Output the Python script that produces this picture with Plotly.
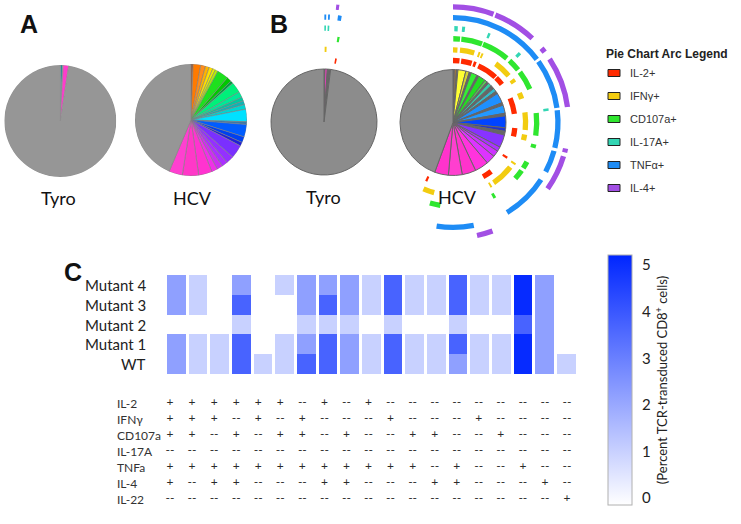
import plotly.graph_objects as go

W, H = 741, 524

# ---------------- Panel A pies (percent of cells per functional subset) ----------------
tyro_a_pct = [0.6, 0.25, 1.55, 97.6]
tyro_a_colors = ['#138a9a', '#969696', '#ff3ccc', '#969696']

hcv_a_pct = [0.6, 2.2, 1.4, 1.1, 1.1, 0.8, 0.8, 3.3, 1.4, 0.8, 3.1, 1.7, 1.1, 1.1, 1.4,
             3.6, 0.8, 3.6, 1.7, 1.1, 3.9, 2.2, 1.7, 1.7, 1.7, 3.9, 4.7, 3.9, 43.6]
hcv_a_colors = ['#a0522d', '#ff7a00', '#ff8c1a', '#ffb300', '#ffe000', '#e8f000', '#b8f000',
                '#1ee01e', '#00c800', '#00a040', '#00f07a', '#00e896', '#00c8a0', '#10b4b4',
                '#00d4d0', '#00e1ff', '#3a78a8', '#005cff', '#0040f0', '#2020d8', '#7a30ff',
                '#9430ff', '#aa30ff', '#cc30f0', '#f030e8', '#ff33d0', '#ff38c8', '#ff40d0',
                '#969696']

# ---------------- Panel B pies ----------------
tyro_b_pct = [0.3, 0.7, 1.0, 98.0]
tyro_b_colors = ['#666666', '#ff3ccc', '#666666', '#8c8c8c']

hcv_b_pct = [0.4, 0.7, 0.4, 2.4, 1.1, 0.6, 1.9, 0.6, 2.2, 0.8, 0.6, 1.1, 1.1, 1.1, 0.8, 3.1,
             0.8, 2.5, 0.8, 3.6, 1.1, 1.1, 3.9, 1.4, 1.9, 2.8, 4.2, 4.2, 4.2, 4.2, 44.4]
hcv_b_colors = ['#666666', '#997744', '#666666', '#ffff33', '#d4d433', '#666666', '#33ee33',
                '#666666', '#22dd22', '#55cc55', '#666666', '#33ccaa', '#666666', '#33bbcc',
                '#666666', '#1e90ff', '#666666', '#2299ff', '#666666', '#0044ff', '#2233cc',
                '#666666', '#8833ff', '#aa33ff', '#cc33ff', '#dd33ff', '#ff33dd', '#ff33cc',
                '#ff3fcf', '#ff33cc', '#8c8c8c']

# Arc spans (degrees clockwise from 12 o'clock) for each cytokine
arc_names = ['IL-2+', 'IFNγ+', 'CD107a+', 'IL-17A+', 'TNFα+', 'IL-4+']
arc_colors = ['#ff2a00', '#f2cc10', '#2fe62f', '#33d6b4', '#1e8cf5', '#a24fe4']

tyro_il2_arcs = [[10, 11.5]]
tyro_ifng_arcs = [[0.5, 2]]
tyro_cd107a_arcs = [[9, 10.5]]
tyro_il17a_arcs = [[0.2, 1.2], [2.2, 3.2]]
tyro_tnfa_arcs = [[0.2, 1.2], [2.2, 3.2], [7.5, 9.5]]
tyro_il4_arcs = [[6, 7.5]]

hcv_il2_arcs = [[0, 6], [7.5, 17.5], [19, 21.5], [24, 43], [44, 52], [67, 82], [95, 103],
                [122, 124], [142, 151], [203.5, 205.5]]
hcv_ifng_arcs = [[0, 3.5], [5.5, 17], [20, 21.5], [22.5, 24], [36, 50], [54, 57], [66, 71],
                 [82, 96], [99.5, 104], [123, 124.5], [128, 146], [148.5, 150], [195, 204]]
hcv_cd107a_arcs = [[0.2, 4.8], [5.7, 20.3], [21, 40], [42.4, 51], [53, 66.5], [83.5, 99],
                   [105, 107.5], [118, 123], [125, 132], [150, 152], [188.7, 196]]
hcv_il17a_arcs = [[0.8, 2.9], [5.5, 7.3], [21.5, 23], [43, 45], [81.5, 83]]
hcv_tnfa_arcs = [[0, 53], [54.5, 82], [83.3, 104], [105.7, 118], [123, 149], [168.6, 189]]
hcv_il4_arcs = [[0, 20.5], [21.5, 43.3], [50, 52.5], [56.7, 82.3], [103, 105], [107, 125],
                [160, 168]]

# ---------------- Panel C heatmap ----------------
combos = list(range(1, 20))
heat_rows = ['WT', 'Mutant 1', 'Mutant 2', 'Mutant 3', 'Mutant 4']
wt_vals = [2.2, 1.0, 1.0, 3.7, 1.0, 1.0, 3.7, 3.7, 2.2, 1.0, 3.7, 1.0, 1.0, 2.2, 1.0, 1.0, 5.1, 2.2, 1.0]
mutant1_vals = [2.2, 1.0, 1.0, 3.7, None, 1.0, 2.2, 3.7, 2.2, 1.0, 3.7, 1.0, 1.0, 3.7, 1.0, 1.0, 5.1, 2.2, None]
mutant2_vals = [None, None, None, 1.0, None, None, 1.0, 1.0, 1.0, None, 1.0, None, None, 1.0, None, None, 3.7, 2.2, None]
mutant3_vals = [2.2, 1.0, None, 3.7, None, None, 2.2, 3.7, 2.2, 1.0, 3.7, 1.0, 1.0, 3.7, 1.0, 1.0, 5.1, 2.2, None]
mutant4_vals = [2.2, 1.0, None, 2.2, None, 1.0, 2.2, 2.2, 2.2, 1.0, 3.7, 1.0, 1.0, 3.7, 1.0, 1.0, 5.1, 2.2, None]

cytokines = ['IL-2', 'IFNγ', 'CD107a', 'IL-17A', 'TNFa', 'IL-4', 'IL-22']
il2_signs    = '+ + + + + + - + - + - - - - - - - - -'
ifng_signs   = '+ + + - + - + - - - + - - - + - - - -'
cd107a_signs = '+ + - + - + + - + - - + + - - + - - -'
il17a_signs  = '- - - - - - - - - - - - - - - - - - -'
tnfa_signs   = '+ + + + + + + + + + + + - + - - + - -'
il4_signs    = '+ - + + - - - + + - - - + + - - - + -'
il22_signs   = '- - - - - - - - - - - - - - - - - - +'
sign_rows = [il2_signs, ifng_signs, cd107a_signs, il17a_signs, tnfa_signs, il4_signs, il22_signs]

FONT = 'Lato'


def px_x(p):
    return p / W


def px_y(p):
    return 1 - p / H


def wedges(pcts):
    tot = sum(pcts)
    th, wd, s = [], [], 0.0
    for p in pcts:
        w = p / tot * 360.0
        th.append(s + w / 2)
        wd.append(w)
        s += w
    return th, wd


fig = go.Figure()


def add_pie(subplot, pcts, colors, lc, lw):
    th, wd = wedges(pcts)
    fig.add_trace(go.Barpolar(r=[1] * len(pcts), base=[0] * len(pcts), theta=th, width=wd,
                              marker=dict(color=colors, line=dict(color=lc, width=lw)),
                              subplot=subplot, showlegend=False, hoverinfo='skip'))


ring_base = [1.12, 1.32, 1.53, 1.72, 1.93, 2.13]
ring_thick = 0.1


def add_arcs(subplot, arc_sets):
    for i, arcs in enumerate(arc_sets):
        th = [(a + b) / 2 for a, b in arcs]
        wd = [b - a for a, b in arcs]
        fig.add_trace(go.Barpolar(r=[ring_thick] * len(arcs), base=[ring_base[i]] * len(arcs),
                                  theta=th, width=wd,
                                  marker=dict(color=arc_colors[i], line=dict(width=0)),
                                  subplot=subplot, showlegend=False, hoverinfo='skip'))


add_pie('polar', tyro_a_pct, tyro_a_colors, '#8a8a8a', 0.5)
add_pie('polar2', hcv_a_pct, hcv_a_colors, '#7f7f7f', 0.6)
add_pie('polar3', tyro_b_pct, tyro_b_colors, '#666666', 1)
add_arcs('polar3', [tyro_il2_arcs, tyro_ifng_arcs, tyro_cd107a_arcs, tyro_il17a_arcs,
                    tyro_tnfa_arcs, tyro_il4_arcs])
add_pie('polar4', hcv_b_pct, hcv_b_colors, '#666666', 1)
add_arcs('polar4', [hcv_il2_arcs, hcv_ifng_arcs, hcv_cd107a_arcs, hcv_il17a_arcs,
                    hcv_tnfa_arcs, hcv_il4_arcs])


def polar_layout(cx, cy, rpx, rmax):
    return dict(domain=dict(x=[px_x(cx - rpx), px_x(cx + rpx)], y=[px_y(cy + rpx), px_y(cy - rpx)]),
                angularaxis=dict(rotation=90, direction='clockwise', visible=False),
                radialaxis=dict(range=[0, rmax], visible=False),
                bgcolor='rgba(0,0,0,0)')


# Heatmap
fig.add_trace(go.Heatmap(
    z=[wt_vals, mutant1_vals, mutant2_vals, mutant3_vals, mutant4_vals],
    x=combos, y=heat_rows, xaxis='x', yaxis='y',
    colorscale=[[0, '#ffffff'], [1, '#0026ff']], zmin=-0.15, zmax=5.22,
    xgap=3, ygap=0, hoverinfo='skip',
    colorbar=dict(x=px_x(608), xanchor='left', xpad=0, y=px_y(380), yanchor='middle', ypad=0,
                  len=250, lenmode='pixels', thickness=24, thicknessmode='pixels',
                  outlinewidth=1, outlinecolor='#b0b0b0',
                  tickvals=[0, 1, 2, 3, 4, 5], ticks='outside', ticklen=7, tickcolor='rgba(0,0,0,0)',
                  tickfont=dict(family=FONT, size=15, color='#222'),
                  title=dict(text='(Percent TCR-transduced CD8<sup>+</sup> cells)', side='right',
                             font=dict(family=FONT, size=13, color='#222')))))

# Sign table
tx, ty, tt = [], [], []
for ri, row in enumerate(sign_rows):
    for ci, s in enumerate(row.split()):
        tx.append(combos[ci])
        ty.append(cytokines[ri])
        tt.append('+' if s == '+' else '--')
fig.add_trace(go.Scatter(x=tx, y=ty, text=tt, mode='text', xaxis='x2', yaxis='y2',
                         textfont=dict(family=FONT, size=12, color='#2a2a2a'),
                         showlegend=False, hoverinfo='skip'))

ann = []
for lab, x, y in [('A', 18, 24), ('B', 268, 24), ('C', 62, 272)]:
    ann.append(dict(text='<b>%s</b>' % lab, x=px_x(x), y=px_y(y), xref='paper', yref='paper',
                    xanchor='left', yanchor='middle', showarrow=False,
                    font=dict(family='Liberation Sans', size=25, color='#111')))
for lab, x, y in [('Tyro', 58, 198), ('HCV', 192, 198), ('Tyro', 323, 197), ('HCV', 458, 197)]:
    ann.append(dict(text=lab, x=px_x(x), y=px_y(y), xref='paper', yref='paper',
                    xanchor='center', yanchor='middle', showarrow=False,
                    font=dict(family=FONT, size=18, color='#111')))
for r in heat_rows:
    ann.append(dict(text=r, x=px_x(148), y=r, xref='paper', yref='y', xanchor='right',
                    yanchor='middle', showarrow=False, font=dict(family=FONT, size=15, color='#222')))
for c in cytokines:
    ann.append(dict(text=c, x=px_x(115), y=c, xref='paper', yref='y2', xanchor='left',
                    yanchor='middle', showarrow=False, font=dict(family=FONT, size=12, color='#333')))

# Arc legend
ann.append(dict(text='<b>Pie Chart Arc Legend</b>', x=px_x(604), y=px_y(54), xref='paper', yref='paper',
                xanchor='left', yanchor='middle', showarrow=False,
                font=dict(family='Liberation Sans', size=12, color='#222')))
shapes = []
for i, (n, col) in enumerate(zip(arc_names, arc_colors)):
    yc = 73 + i * 23
    shapes.append(dict(type='rect', xref='paper', yref='paper', x0=px_x(608), x1=px_x(620),
                       y0=px_y(yc + 3.5), y1=px_y(yc - 3.5), fillcolor=col,
                       line=dict(color='#222', width=1)))
    ann.append(dict(text=n, x=px_x(628), y=px_y(yc), xref='paper', yref='paper', xanchor='left',
                    yanchor='middle', showarrow=False,
                    font=dict(family='Liberation Sans', size=11, color='#333')))

fig.update_layout(
    width=W, height=H, margin=dict(l=0, r=0, t=0, b=0),
    paper_bgcolor='white', plot_bgcolor='white',
    polar=polar_layout(60.3, 121, 56, 1.0),
    polar2=polar_layout(191, 120, 56, 1.0),
    polar3=polar_layout(324, 122, 53 * 2.3, 2.3),
    polar4=polar_layout(453, 122.5, 53 * 2.3, 2.3),
    xaxis=dict(domain=[px_x(166), px_x(577.5)], range=[0.5, 19.5], visible=False, anchor='y'),
    yaxis=dict(domain=[px_y(374), px_y(275)], range=[-0.5, 4.5], visible=False, anchor='x',
               type='category', categoryorder='array', categoryarray=heat_rows),
    xaxis2=dict(domain=[px_x(159), px_x(578)], range=[0.5, 19.5], visible=False, anchor='y2'),
    yaxis2=dict(domain=[px_y(507), px_y(395)], range=[6.5, -0.5], visible=False, anchor='x2',
                type='category', categoryorder='array', categoryarray=cytokines),
    annotations=ann, shapes=shapes, showlegend=False,
)

fig.write_html('out.html', config={'displayModeBar': False},
               post_script="document.body.style.margin='0';")
